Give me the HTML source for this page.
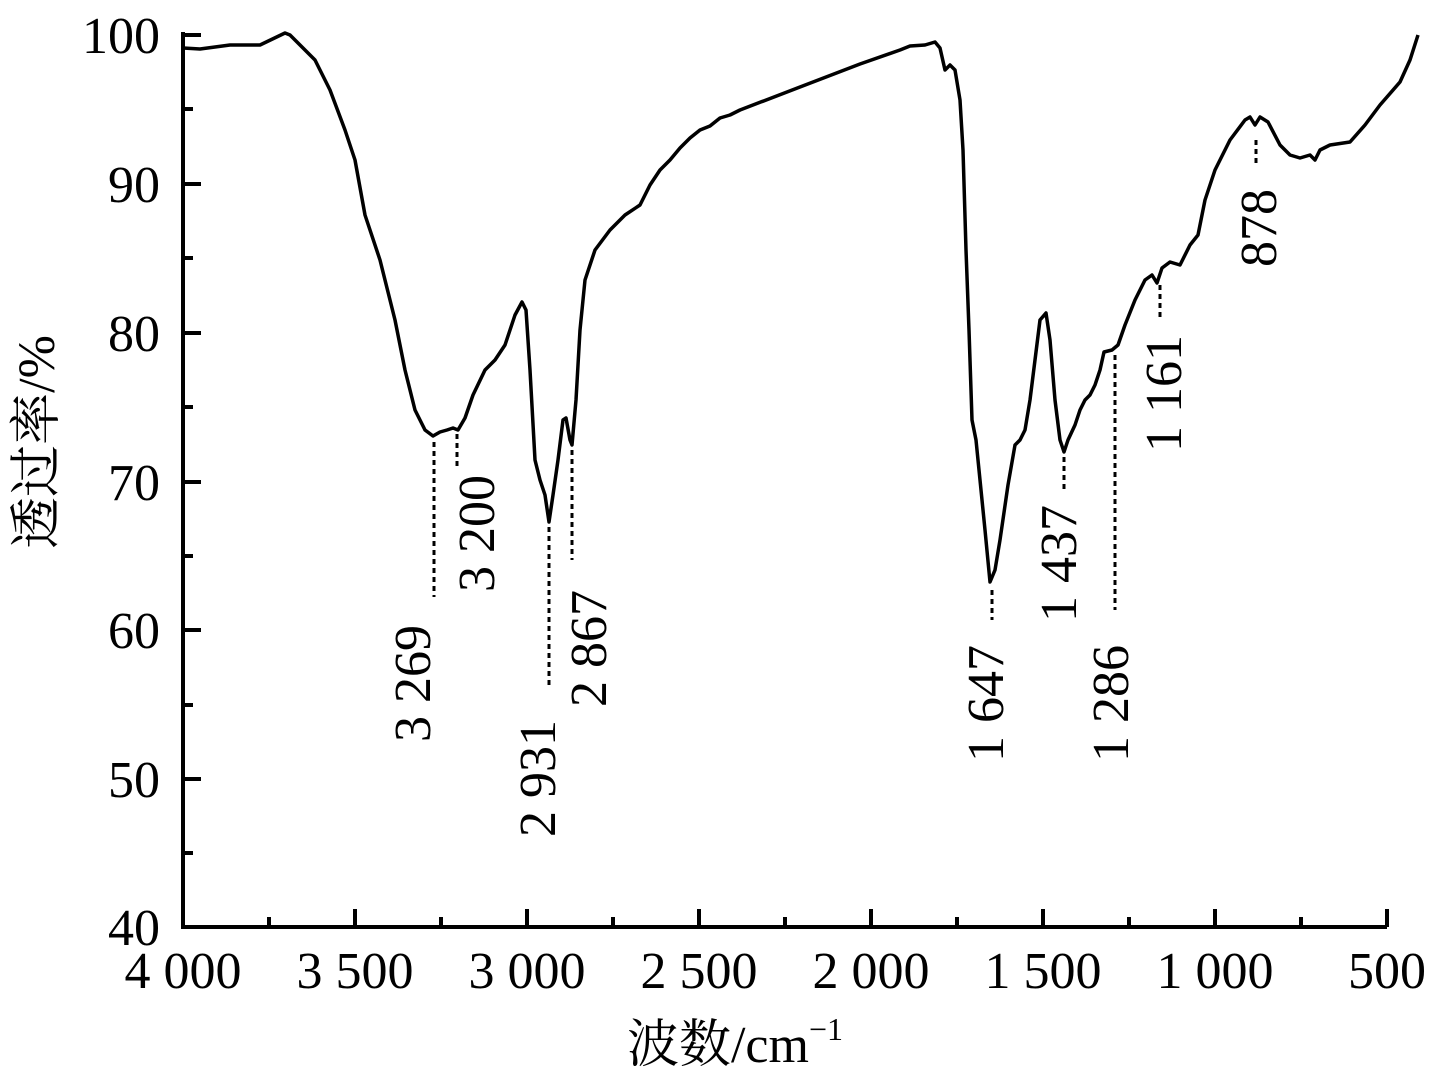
<!DOCTYPE html>
<html><head><meta charset="utf-8"><style>body{margin:0;background:#fff}svg{display:block}</style></head><body>
<svg width="1435" height="1078" xmlns="http://www.w3.org/2000/svg" font-family="'Liberation Serif','Noto Serif CJK SC',serif">
<g stroke="#000" stroke-width="4" fill="none">
<path d="M183,32 V927 H1387"/>
<path d="M183,35h18M183,184h18M183,333h18M183,482h18M183,630h18M183,779h18M183,109h10M183,258h10M183,407h10M183,556h10M183,705h10M183,853h10"/>
<path d="M355,927v-18M527,927v-18M699,927v-18M871,927v-18M1043,927v-18M1215,927v-18M1387,927v-18M269,927v-10M441,927v-10M613,927v-10M785,927v-10M957,927v-10M1129,927v-10M1301,927v-10"/>
</g>
<path fill="none" stroke="#000" stroke-width="3.5" stroke-linejoin="round" d="M183,48 L200,49 230,45 260,45 285,33 290,35 300,45 315,60 330,90 345,130 355,160 365,215 380,260 395,320 405,370 415,410 425,430 433,436 440,432 447,430 453,428 458,430 465,418 473,395 485,370 495,360 505,345 515,315 522,302 526,310 530,370 535,460 540,480 545,495 549,522 553,495 558,460 563,420 566,418 570,440 572,445 576,400 580,330 585,280 595,250 610,230 625,215 640,205 650,185 660,170 670,160 680,148 690,138 700,130 710,126 720,118 730,115 740,110 800,87 860,64 900,50 910,46 925,45 935,42 940,48 945,70 950,65 955,70 960,100 963,150 966,250 969,330 972,420 976,440 980,480 985,530 990,582 995,570 1000,540 1008,485 1015,445 1020,440 1025,430 1030,400 1035,360 1040,320 1046,313 1050,340 1055,400 1060,440 1064,452 1068,440 1075,425 1080,410 1085,400 1090,395 1095,385 1100,370 1104,352 1112,350 1118,345 1125,325 1135,300 1145,280 1152,275 1157,283 1162,268 1170,262 1180,265 1190,245 1198,235 1205,200 1215,170 1230,140 1245,120 1250,117 1255,125 1260,117 1268,122 1280,145 1290,155 1300,158 1310,155 1315,160 1320,150 1330,145 1350,142 1365,125 1380,105 1400,82 1410,60 1418,35"/>
<g stroke="#000" stroke-width="3" stroke-dasharray="5,4">
<path d="M434,442V597M457,434V470M549,527V685M572,450V560M992,590V620M1064,457V490M1115,355V610M1160,285V320M1256,140V165"/>
</g>
<g font-size="52" fill="#000">
<g text-anchor="end">
<text x="160" y="53">100</text><text x="160" y="202">90</text><text x="160" y="351">80</text><text x="160" y="500">70</text><text x="160" y="648">60</text><text x="160" y="797">50</text><text x="160" y="945">40</text>
</g>
<g text-anchor="middle">
<text x="183" y="988">4 000</text><text x="355" y="988">3 500</text><text x="527" y="988">3 000</text><text x="699" y="988">2 500</text><text x="871" y="988">2 000</text><text x="1043" y="988">1 500</text><text x="1215" y="988">1 000</text><text x="1387" y="988">500</text>
<text x="735" y="1062">波数/cm<tspan font-size="32" dy="-22">−1</tspan></text>
<text transform="translate(54,442) rotate(-90)">透过率/%</text>
</g>
<g>
<text transform="translate(430,742) rotate(-90)">3 269</text>
<text transform="translate(494,592) rotate(-90)">3 200</text>
<text transform="translate(555,837) rotate(-90)">2 931</text>
<text transform="translate(606,707) rotate(-90)">2 867</text>
<text transform="translate(1003,762) rotate(-90)">1 647</text>
<text transform="translate(1076,622) rotate(-90)">1 437</text>
<text transform="translate(1128,762) rotate(-90)">1 286</text>
<text transform="translate(1181,452) rotate(-90)">1 161</text>
<text transform="translate(1276,267) rotate(-90)">878</text>
</g>
</g>
</svg>
</body></html>
